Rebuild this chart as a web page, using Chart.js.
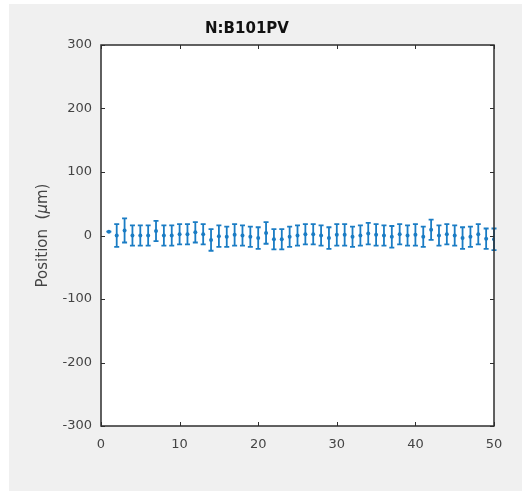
<!DOCTYPE html>
<html>
<head>
<meta charset="utf-8">
<script src="https://cdn.jsdelivr.net/npm/chart.js@4.4.1/dist/chart.umd.min.js"></script>
<style>
  html, body { margin: 0; padding: 0; background: #ffffff; }
  #wrap { position: absolute; left: 0; top: 0; width: 522px; height: 491px; }
</style>
</head>
<body>
<div id="wrap"><canvas id="c" width="522" height="491"></canvas></div>
<script>
// Beam position per sample with its uncertainty
const titleText = 'N:B101PV';
const sampleIndex = [1, 2, 3, 4, 5, 6, 7, 8, 9, 10,
                     11, 12, 13, 14, 15, 16, 17, 18, 19, 20,
                     21, 22, 23, 24, 25, 26, 27, 28, 29, 30,
                     31, 32, 33, 34, 35, 36, 37, 38, 39, 40,
                     41, 42, 43, 44, 45, 46, 47, 48, 49, 50];
const positions = [6, 0, 8, 0, 0, 0, 7, 0, 0, 2,
                   2, 5, 2, -7, -1, -2, 1, 0, -2, -4,
                   4, -6, -6, -2, 0, 2, 2, 0, -4, 1,
                   1, -2, 0, 3, 1, 0, -2, 2, 0, 1,
                   -2, 9, 0, 2, 0, -4, -2, 2, -5, -6];
const errors = [0, 18, 19, 16, 16, 16, 16, 16, 16, 16,
                16, 16, 16, 17, 17, 16, 17, 16, 16, 17,
                17, 16, 16, 16, 16, 16, 16, 16, 17, 17,
                17, 16, 16, 17, 17, 16, 17, 16, 16, 17,
                16, 16, 16, 16, 16, 17, 16, 16, 16, 17];
const xTicks = [0, 10, 20, 30, 40, 50];
const yTicks = [-300, -200, -100, 0, 100, 200, 300];
const yLabelParts = [['Position  (', 'normal'], ['\u03bc', 'italic'], ['m)', 'normal']];

const lineBlue = '#1a7cc4';
const fontFamily = '"DejaVu Sans", "Liberation Sans", sans-serif';
const tickColor = '#444444';

// grey figure background plus white axes area
const backdrop = {
  id: 'backdrop',
  beforeDraw(chart) {
    const { ctx, chartArea: a } = chart;
    ctx.save();
    ctx.fillStyle = '#f0f0f0';
    ctx.fillRect(9, 4, chart.width - 9, chart.height - 4);
    ctx.fillStyle = '#ffffff';
    ctx.fillRect(a.left, a.top, a.right - a.left, a.bottom - a.top);
    ctx.restore();
  }
};

// vertical error bars with caps, positioned through the scales
const errorBars = {
  id: 'errorBars',
  beforeDatasetsDraw(chart) {
    const { ctx, scales: { x, y } } = chart;
    ctx.save();
    ctx.strokeStyle = lineBlue;
    ctx.lineWidth = 1.8;
    sampleIndex.forEach((k, i) => {
      const px = x.getPixelForValue(k);
      const top = y.getPixelForValue(positions[i] + errors[i]);
      const bot = y.getPixelForValue(positions[i] - errors[i]);
      ctx.beginPath();
      ctx.moveTo(px, top); ctx.lineTo(px, bot);
      ctx.moveTo(px - 2.5, top); ctx.lineTo(px + 2.5, top);
      ctx.moveTo(px - 2.5, bot); ctx.lineTo(px + 2.5, bot);
      ctx.stroke();
    });
    ctx.restore();
  }
};

// axes box with inward ticks on all four sides, y-axis label
const axesBox = {
  id: 'axesBox',
  afterDatasetsDraw(chart) {
    const { ctx, chartArea: a, scales: { x, y } } = chart;
    ctx.save();
    ctx.strokeStyle = '#2e2e2e';
    ctx.lineWidth = 1;
    const len = 4;
    ctx.beginPath();
    xTicks.forEach(v => {
      const px = Math.round(x.getPixelForValue(v)) + 0.5;
      ctx.moveTo(px, a.bottom); ctx.lineTo(px, a.bottom - len);
      ctx.moveTo(px, a.top); ctx.lineTo(px, a.top + len);
    });
    yTicks.forEach(v => {
      const py = Math.round(y.getPixelForValue(v)) + 0.5;
      ctx.moveTo(a.left, py); ctx.lineTo(a.left + len, py);
      ctx.moveTo(a.right, py); ctx.lineTo(a.right - len, py);
    });
    ctx.stroke();
    ctx.lineWidth = 1.5;
    ctx.strokeRect(a.left, a.top, a.right - a.left, a.bottom - a.top);

    // rotated y label with italic mu
    const size = 15;
    const fontFor = s => `${s} ${size}px ${fontFamily}`;
    let total = 0;
    const widths = yLabelParts.map(([t, s]) => { ctx.font = fontFor(s); const w = ctx.measureText(t).width; total += w; return w; });
    ctx.translate(43, (a.top + a.bottom) / 2);
    ctx.rotate(-Math.PI / 2);
    ctx.fillStyle = tickColor;
    ctx.textBaseline = 'middle';
    ctx.textAlign = 'left';
    let cx = -total / 2;
    yLabelParts.forEach(([t, s], i) => { ctx.font = fontFor(s); ctx.fillText(t, cx, 0); cx += widths[i]; });
    ctx.restore();
  }
};

new Chart(document.getElementById('c'), {
  type: 'scatter',
  data: {
    datasets: [{
      data: sampleIndex.map((k, i) => ({ x: k, y: positions[i] })),
      backgroundColor: lineBlue,
      borderColor: lineBlue,
      pointRadius: 2,
      pointBorderWidth: 0,
      pointHoverRadius: 2
    }]
  },
  options: {
    responsive: false,
    devicePixelRatio: 1,
    animation: false,
    events: [],
    layout: { padding: { left: 0, right: 28, top: 0, bottom: 0 } },
    plugins: {
      legend: { display: false },
      tooltip: { enabled: false },
      title: {
        display: true,
        text: titleText,
        color: '#111111',
        font: { family: fontFamily, size: 15, weight: 'bold' },
        padding: { top: 20, bottom: 7 }
      }
    },
    scales: {
      x: {
        type: 'linear',
        min: 0, max: 50,
        afterBuildTicks: s => { s.ticks = xTicks.map(v => ({ value: v })); },
        afterFit: s => { s.height = 65; },
        grid: { display: false, drawTicks: false },
        border: { display: false },
        ticks: { color: tickColor, font: { family: fontFamily, size: 13 }, padding: 11, maxRotation: 0 }
      },
      y: {
        type: 'linear',
        min: -300, max: 300,
        afterBuildTicks: s => { s.ticks = yTicks.map(v => ({ value: v })); },
        afterFit: s => { s.width = 101; },
        grid: { display: false, drawTicks: false },
        border: { display: false },
        ticks: { color: tickColor, font: { family: fontFamily, size: 13 }, padding: 9 }
      }
    }
  },
  plugins: [backdrop, errorBars, axesBox]
});
</script>
</body>
</html>
